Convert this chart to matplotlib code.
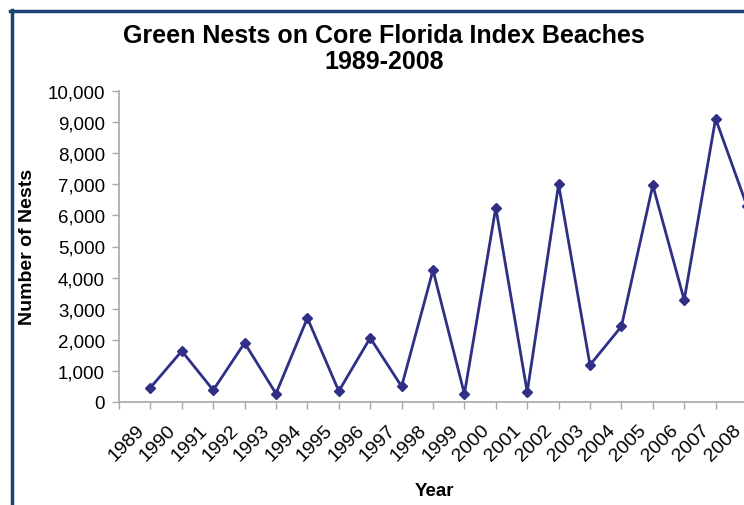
import numpy as np
import matplotlib.pyplot as plt
from matplotlib.lines import Line2D
from matplotlib.ticker import FuncFormatter

# --- Datos ---
years = [str(y) for y in range(1989, 2009)]
nests = [460, 1640, 380, 1900, 270, 2700, 350, 2060, 500, 4240,
         260, 6250, 320, 7000, 1190, 2430, 6970, 3280, 9110, 6300]

plt.rcParams['font.family'] = ['Liberation Sans', 'DejaVu Sans']

W, H = 744, 506
fig = plt.figure(figsize=(W / 100, H / 100), dpi=100)

# ejes (el borde derecho queda fuera de la imagen, como en el original)
ax = fig.add_axes([119 / W, 1 - 403 / H, (747 - 119) / W, (403 - 92) / H])

x = np.arange(1, len(nests) + 1)
ax.plot(x, nests, color='#2f2f86', linewidth=2, marker='D', markersize=5,
        clip_on=False)

ax.set_xlim(0, len(nests))
ax.set_ylim(0, 10000)
ax.set_yticks(np.arange(0, 10001, 1000))
ax.yaxis.set_major_formatter(FuncFormatter(lambda v, p: f'{int(v):,}'))

# marcas en cada categoría (menores) y etiquetas algo a la izquierda (mayores)
ax.set_xticks(np.arange(0, len(nests) + 1), minor=True)
ax.set_xticks(x - 0.47)
ax.set_xticklabels(years, rotation=45, ha='right', va='top',
                   rotation_mode='anchor', fontsize=14)
ax.tick_params(axis='x', which='major', length=0, pad=14)
ax.tick_params(axis='x', which='minor', length=5, width=1, colors='#a8a8a8')

for s in ['top', 'right']:
    ax.spines[s].set_visible(False)
for s in ['left', 'bottom']:
    ax.spines[s].set_color('#a8a8a8')
    ax.spines[s].set_linewidth(1.2)
ax.tick_params(axis='y', colors='#a8a8a8', labelcolor='black',
               length=5, width=1, labelsize=13.5, pad=5)
ax.tick_params(axis='x', which='major', labelcolor='black')

fig.text(434 / W, 1 - 492 / H, 'Year', fontsize=13.5, fontweight='bold',
         ha='center', va='center')
fig.text(27 / W, 1 - 247 / H, 'Number of Nests', rotation=90,
         fontsize=14, fontweight='bold', ha='center', va='center')

fig.text(384 / W, 1 - 49 / H, 'Green Nests on Core Florida Index Beaches\n1989-2008',
         fontsize=18, fontweight='bold', ha='center', va='center',
         linespacing=1.12)

# marco azul del recuadro
fig.add_artist(Line2D([11.5 / W, 11.5 / W], [1 - 11 / H, 0], color='#1b4272', linewidth=2.5))
fig.add_artist(Line2D([10 / W, 1], [1 - 12 / H, 1 - 12 / H], color='#1b4272', linewidth=2.5))

fig.savefig('out.png', dpi=100)
